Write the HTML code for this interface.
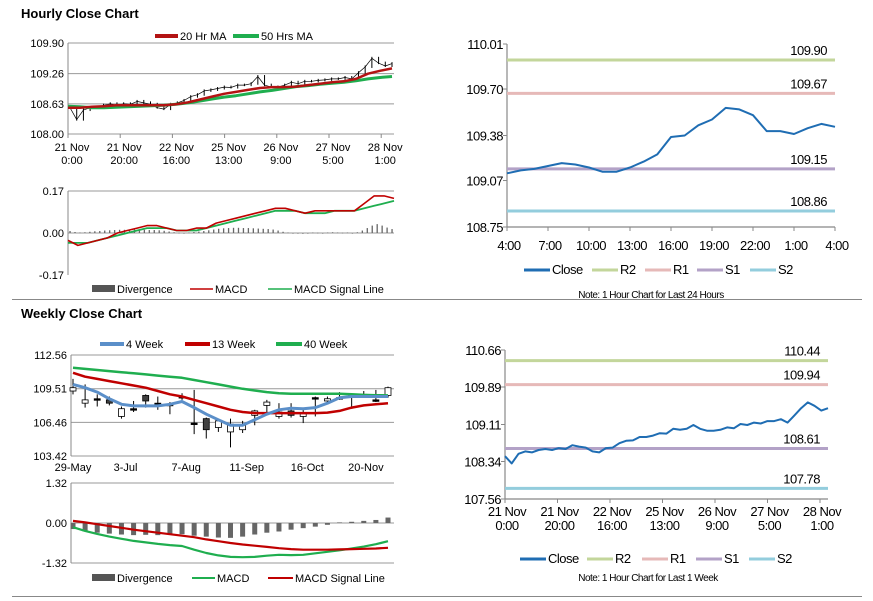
<!DOCTYPE html>
<html><head><meta charset="utf-8">
<style>
body{margin:0;background:#fff;}
svg{display:block;font-family:"Liberation Sans",Arial,sans-serif;}
.t{font-size:11px;fill:#000;}
.tc{font-size:11px;fill:#000;letter-spacing:-0.5px;}
</style></head><body>
<svg id="s" width="873" height="601" viewBox="0 0 873 601" xmlns="http://www.w3.org/2000/svg">
<text x="21" y="18" font-size="13" font-weight="bold">Hourly Close Chart</text>
<text x="21" y="318" font-size="13" font-weight="bold">Weekly Close Chart</text>
<line x1="12" y1="299.5" x2="862" y2="299.5" stroke="#888"/>
<line x1="12" y1="596.5" x2="862" y2="596.5" stroke="#888"/>
</svg>
<script>
// ---------- DATA ----------
const hourlyCloses=[108.55,108.30,108.50,108.55,108.56,108.60,108.63,108.60,108.63,108.62,108.68,108.65,108.62,108.55,108.52,108.62,108.65,108.70,108.78,108.82,108.90,108.92,108.95,108.98,108.97,109.02,109.02,109.05,109.20,109.02,108.98,108.98,109.02,109.08,109.05,109.10,109.10,109.12,109.13,109.15,109.15,109.18,109.15,109.28,109.40,109.58,109.48,109.42,109.47];
const ma20=[108.55,108.55,108.57,108.58,108.60,108.60,108.60,108.60,108.60,108.62,108.66,108.72,108.78,108.84,108.88,108.92,108.96,108.98,108.98,108.99,109.02,109.05,109.08,109.10,109.15,109.26,109.32,109.37];
const ma50=[108.58,108.57,108.55,108.55,108.56,108.57,108.58,108.59,108.60,108.62,108.65,108.69,108.73,108.77,108.80,108.84,108.88,108.91,108.95,108.99,109.01,109.04,109.06,109.08,109.11,109.15,109.18,109.20];
const hourlyXTicks=[["21 Nov","0:00"],["21 Nov","20:00"],["22 Nov","16:00"],["25 Nov","13:00"],["26 Nov","9:00"],["27 Nov","5:00"],["28 Nov","1:00"]];
const hourlyYTicks=[109.90,109.26,108.63,108.00];
const hMacd=[-0.03,-0.05,-0.04,-0.03,-0.02,0.00,0.01,0.02,0.03,0.03,0.02,0.01,0.01,0.02,0.02,0.04,0.05,0.06,0.07,0.08,0.09,0.10,0.10,0.09,0.08,0.09,0.09,0.09,0.09,0.09,0.12,0.15,0.15,0.14];
const hSignal=[-0.04,-0.04,-0.04,-0.03,-0.02,-0.01,0.00,0.01,0.02,0.02,0.02,0.01,0.01,0.01,0.02,0.03,0.04,0.05,0.06,0.07,0.08,0.09,0.09,0.09,0.08,0.08,0.08,0.09,0.09,0.09,0.10,0.11,0.12,0.13];
const hDiv=[0.008,0.004,0.002,0.003,0.005,0.007,0.008,0.010,0.011,0.012,0.013,0.013,0.014,0.014,0.014,0.013,0.012,0.012,0.011,0.009,0.006,0.003,0.001,0.000,0.002,0.004,0.006,0.008,0.011,0.014,0.017,0.019,0.020,0.021,0.021,0.020,0.020,0.019,0.018,0.017,0.016,0.014,0.010,0.005,0.002,0.000,-0.002,-0.003,0.000,0.002,0.001,0.000,0.002,0.003,0.002,0.001,0.002,0.000,0.003,0.010,0.020,0.030,0.036,0.030,0.022,0.016];
const hMacdTicks=[0.17,0.00,-0.17];

const d24Close=[109.12,109.14,109.15,109.17,109.19,109.18,109.16,109.13,109.13,109.16,109.20,109.25,109.37,109.38,109.45,109.49,109.57,109.56,109.52,109.41,109.41,109.39,109.43,109.46,109.44];
const d24XTicks=["4:00","7:00","10:00","13:00","16:00","19:00","22:00","1:00","4:00"];
const d24YTicks=[110.01,109.70,109.38,109.07,108.75];
const d24Levels=[109.90,109.67,109.15,108.86]; // R2,R1,S1,S2

const wkClose=[108.45,108.30,108.50,108.55,108.53,108.58,108.60,108.58,108.62,108.60,108.68,108.65,108.63,108.55,108.53,108.62,108.63,108.72,108.77,108.78,108.85,108.85,108.88,108.93,108.92,109.02,109.00,109.02,109.10,109.02,108.98,108.98,109.00,109.05,109.03,109.12,109.10,109.15,109.13,109.18,109.18,109.22,109.15,109.30,109.45,109.57,109.50,109.40,109.45];
const wkXTicks=[["21 Nov","0:00"],["21 Nov","20:00"],["22 Nov","16:00"],["25 Nov","13:00"],["26 Nov","9:00"],["27 Nov","5:00"],["28 Nov","1:00"]];
const wkYTicks=[110.66,109.89,109.11,108.34,107.56];
const wkLevels=[110.44,109.94,108.61,107.78];

const wOpen =[109.3,108.2,108.6,108.5,107.0,107.7,108.9,108.2,108.1,108.8,106.4,106.8,106.0,105.6,105.8,107.1,108.0,107.0,107.5,107.0,108.7,108.4,108.7,108.9,109.0,108.5,108.9];
const wClose=[109.6,108.5,108.6,108.2,107.7,107.7,108.4,108.2,108.1,108.8,106.4,105.8,106.6,106.3,106.2,107.5,108.3,107.4,107.1,107.3,108.7,108.6,108.7,108.9,109.0,108.5,109.6];
const wHigh =[110.4,109.9,109.0,108.8,107.9,108.4,109.0,108.8,108.3,109.1,109.4,106.9,106.7,106.8,106.6,107.6,108.5,108.2,108.2,107.6,108.8,108.8,109.2,109.0,109.3,109.4,109.7];
const wLow  =[109.0,107.8,107.9,108.0,106.8,107.4,107.8,107.6,107.2,108.5,105.4,105.0,105.6,104.2,105.5,106.2,107.2,106.8,106.9,106.4,107.0,108.2,108.5,107.7,108.8,108.3,108.7];
const w4=[109.9,109.6,109.2,108.6,108.1,107.95,107.95,107.95,108.1,108.35,107.8,107.2,106.7,106.2,106.2,106.7,107.2,107.6,107.75,107.7,107.8,108.2,108.7,108.8,108.8,108.8,108.8];
const w13=[110.95,110.6,110.4,110.2,110.0,109.8,109.6,109.3,109.0,108.8,108.5,108.2,107.9,107.6,107.4,107.3,107.3,107.3,107.3,107.3,107.3,107.35,107.5,107.8,108.0,108.1,108.2];
const w40=[111.4,111.3,111.2,111.1,111.0,110.9,110.8,110.7,110.6,110.5,110.3,110.1,109.9,109.7,109.5,109.35,109.2,109.1,109.05,109.05,109.05,109.05,109.05,109.0,108.95,108.92,108.9];
const wXTicks=["29-May","3-Jul","7-Aug","11-Sep","16-Oct","20-Nov"];
const wXTickIdx=[0,5,10,15,20,25];
const wYTicks=[112.56,109.51,106.46,103.42];
const wMacd=[-0.14,-0.26,-0.36,-0.45,-0.52,-0.59,-0.64,-0.69,-0.73,-0.76,-0.88,-0.99,-1.07,-1.12,-1.13,-1.12,-1.08,-1.05,-1.06,-1.05,-1.00,-0.95,-0.90,-0.84,-0.78,-0.70,-0.60];
const wSignal=[0.07,0.02,-0.04,-0.10,-0.16,-0.22,-0.27,-0.32,-0.37,-0.42,-0.47,-0.54,-0.60,-0.66,-0.71,-0.75,-0.79,-0.83,-0.86,-0.88,-0.88,-0.88,-0.87,-0.86,-0.85,-0.84,-0.82];
const wDiv=[-0.20,-0.28,-0.32,-0.35,-0.38,-0.40,-0.39,-0.40,-0.37,-0.37,-0.42,-0.45,-0.48,-0.49,-0.45,-0.38,-0.32,-0.28,-0.22,-0.17,-0.12,-0.06,0.02,0.04,0.07,0.10,0.18];
const wMacdTicks=[1.32,0.00,-1.32];

// ---------- HELPERS ----------
const S=document.getElementById('s');const NS='http://www.w3.org/2000/svg';
function mk(tag,at,parent){const e=document.createElementNS(NS,tag);for(const k in at)e.setAttribute(k,at[k]);(parent||S).appendChild(e);return e;}
function lin(d0,d1,r0,r1){return v=>r0+(v-d0)/(d1-d0)*(r1-r0);}
function idxX(n,x0,x1){return i=>x0+i*(x1-x0)/(n-1);}
function poly(arr,fx,fy,color,w,name){const p=arr.map((v,i)=>fx(i).toFixed(1)+','+fy(v).toFixed(1)).join(' ');
 const e=mk('polyline',{points:p,fill:'none',stroke:color,'stroke-width':w,'stroke-linejoin':'round'});
 
 return e;}
function txt(x,y,s,anchor,cls,name,size){const e=mk('text',{x:x,y:y,'text-anchor':anchor||'start',class:cls||'t'});if(size)e.style.fontSize=size+'px';e.textContent=s;
 
 return e;}
function hline(x1,x2,y,color,w,name){const e=mk('line',{x1:x1,x2:x2,y1:y,y2:y,stroke:color,'stroke-width':w});
 
 return e;}
function vline(x,y1,y2,color,w,name){const e=mk('line',{x1:x,x2:x,y1:y1,y2:y2,stroke:color,'stroke-width':w});
 
 return e;}
function legLine(x1,x2,y,color,w,label,name,cls,size){hline(x1,x2,y,color,w,name+'-swatch');txt(x2+2,y+4,label,'start',cls||'t',name,size);}
const GRID='#999';

// ---------- HOURLY CANDLE PANEL ----------
(function(){
 const X0=68,X1=394,yS=lin(108.00,109.90,134,43);
 hourlyYTicks.forEach(v=>{hline(X0,X1,yS(v),GRID,1,'hourly-gridline');txt(X0-4,yS(v)+4,v.toFixed(2),'end','t','hourly-y-tick');});
 vline(X0,43,134,'#888',1,'hourly-y-axis');
 hourlyXTicks.forEach((t,i)=>{const x=X0+i*52.2;vline(x,134,138,'#888',1,'hourly-x-tickmark');txt(x+4,151,t[0],'middle','t','hourly-x-tick');txt(x+4,164,t[1],'middle','t','hourly-x-tick');});
 const fx=idxX(hourlyCloses.length,X0+2,X1-2);
 const g=mk('g',{});
 hourlyCloses.forEach((v,i)=>{if(i==0)return;const a=yS(hourlyCloses[i-1]),b=yS(v);
  const e=mk('line',{x1:fx(i),x2:fx(i),y1:Math.min(a,b)-1.5,y2:Math.max(a,b)+1,stroke:'#000','stroke-width':1});
  g.appendChild(e);
  
  });
 poly(hourlyCloses,fx,yS,'#000',0.7,'hourly-close-path');
 poly(ma50,idxX(ma50.length,X0,X1-2),yS,'#1fae4f',3,'ma-50-line');
 poly(ma20,idxX(ma20.length,X0,X1-2),yS,'#b31313',2.5,'ma-20-line');
 legLine(155,178,36,'#b31313',4,'20 Hr MA','legend-20hr-ma');
 legLine(233,259,36,'#1fae4f',4,'50 Hrs MA','legend-50hrs-ma');
})();

// ---------- HOURLY MACD ----------
(function(){
 const X0=68,X1=394,yS=lin(-0.17,0.17,275,191);
 hMacdTicks.forEach(v=>{if(v>-0.17)hline(X0,X1,yS(v),GRID,1,'hourly-macd-gridline');txt(X0-4,yS(v)+4,v.toFixed(2),'end','t','hourly-macd-y-tick');});
 vline(X0,191,275,'#888',1,'hourly-macd-y-axis');
 const fd=idxX(hDiv.length,X0+2,X1-2);
 hDiv.forEach((v,i)=>{const y0=yS(0),y1=yS(v);const e=mk('rect',{x:fd(i)-0.6,y:Math.min(y0,y1),width:1.3,height:Math.max(0.6,Math.abs(y1-y0)),fill:'#666'});
  
  });
 poly(hSignal,idxX(hSignal.length,X0,X1),yS,'#1fae4f',1.8,'hourly-macd-signal-line');
 poly(hMacd,idxX(hMacd.length,X0,X1),yS,'#c00000',1.6,'hourly-macd-line');
 const r=mk('rect',{x:92,y:285,width:23,height:7,fill:'#555'});
 txt(117,293,'Divergence','start','t','legend-divergence');
 legLine(190,213,289,'#c00000',1.5,'MACD','legend-macd');
 legLine(268,292,289,'#1fae4f',1.5,'MACD Signal Line','legend-macd-signal');
})();

// ---------- LEVELS CHART ----------
function levelsChart(o){
 const yS=lin(o.y0v,o.y1v,o.y0,o.y1);
 vline(o.X0,o.y1,o.y0,'#888',1.2,o.p+'-y-axis');
 hline(o.X0,o.X1,o.y0,'#888',1.2,o.p+'-x-axis');
 o.yt.forEach(v=>{hline(o.X0-4,o.X0,yS(v),'#888',1,o.p+'-y-tickmark');txt(o.X0-4,yS(v)+5,v.toFixed(2),'end','tc',o.p+'-y-tick',13);});
 o.xt.forEach((t,i)=>{const x=o.X0+i*o.xs;vline(x,o.y0,o.y0+4,'#888',1,o.p+'-x-tickmark');
  if(Array.isArray(t)){txt(x+2,o.y0+17,t[0],'middle','tc',o.p+'-x-tick',13);txt(x+2,o.y0+31,t[1],'middle','tc',o.p+'-x-tick',13);}
  else txt(x+2,o.y0+23,t,'middle','tc',o.p+'-x-tick',13);});
 const cols=['#c3d69b','#e6b9b8','#b3a2c7','#93cddd'],nm=['r2','r1','s1','s2'];
 o.lv.forEach((v,i)=>{hline(o.X0,o.X1,yS(v),cols[i],3,o.p+'-'+nm[i]+'-line');txt(o.X1-8,yS(v)-5,v.toFixed(2),'end','tc',o.p+'-'+nm[i]+'-label',13);});
 poly(o.close,idxX(o.close.length,o.X0,o.cX1),yS,'#1f6db3',2,o.p+'-close-line');
 const L=o.leg,ly=o.ly;
 legLine(L[0],L[0]+26,ly,'#1f6db3',3,'Close',o.p+'-legend-close','tc',13);
 ['R2','R1','S1','S2'].forEach((s,i)=>legLine(L[i+1],L[i+1]+26,ly,cols[i],3,s,o.p+'-legend-'+nm[i],'tc',13));
 txt(o.nx,o.ny,o.note,'middle','tc',o.p+'-note',10);
}
levelsChart({p:'day',X0:507,X1:835,cX1:835,y0:227,y1:44,y0v:108.75,y1v:110.01,yt:d24YTicks,xt:d24XTicks,xs:41,lv:d24Levels,close:d24Close,leg:[524,592,645,697,750],ly:270,nx:651,ny:298,note:'Note: 1 Hour Chart for Last 24 Hours'});
levelsChart({p:'week',X0:505,X1:828,cX1:828,y0:499,y1:350,y0v:107.56,y1v:110.66,yt:wkYTicks,xt:wkXTicks,xs:52.5,lv:wkLevels,close:wkClose,leg:[520,587,642,696,749],ly:559,nx:648,ny:581,note:'Note: 1 Hour Chart for Last 1 Week'});

// ---------- WEEKLY CANDLES ----------
(function(){
 const X0=71,X1=394,yS=lin(103.42,112.56,456,355),fx=idxX(wOpen.length,73,388);
 wYTicks.forEach(v=>{hline(X0,X1,yS(v),GRID,1,'weekly-gridline');txt(X0-4,yS(v)+4,v.toFixed(2),'end','t','weekly-y-tick');});
 vline(X0,355,456,'#888',1,'weekly-y-axis');
 wXTicks.forEach((t,i)=>{const x=fx(wXTickIdx[i]);txt(x-8+(i==0?8:0)-(i==5?2:0),471,t,'middle','t','weekly-x-tick');});
 wOpen.forEach((o,i)=>{const x=fx(i);vline(x,yS(wHigh[i]),yS(wLow[i]),'#000',1,'weekly-candle-wick');
  const top=yS(Math.max(o,wClose[i])),bot=yS(Math.min(o,wClose[i]));const dark=wClose[i]<o;
  const e=mk('rect',{x:x-3,y:top,width:6,height:Math.max(1.5,bot-top),fill:dark?'#404040':(bot-top<1?'#000':'#fff'),stroke:'#000','stroke-width':0.8});
  
  });
 poly(w40,fx,yS,'#1fae4f',2.5,'ma-40-week-line');
 poly(w13,fx,yS,'#c00000',2.5,'ma-13-week-line');
 poly(w4,fx,yS,'#5b8fc9',3,'ma-4-week-line');
 legLine(100,124,344,'#5b8fc9',4,'4 Week','legend-4-week');
 legLine(185,210,344,'#c00000',4,'13 Week','legend-13-week');
 legLine(276,302,344,'#1fae4f',4,'40 Week','legend-40-week');
})();

// ---------- WEEKLY MACD ----------
(function(){
 const X0=71,X1=394,yS=lin(-1.32,1.32,563,483),fx=idxX(wDiv.length,73,388);
 wMacdTicks.forEach(v=>{hline(X0,X1,yS(v),GRID,1,'weekly-macd-gridline');txt(X0-4,yS(v)+4,v.toFixed(2),'end','t','weekly-macd-y-tick');});
 vline(X0,483,563,'#888',1,'weekly-macd-y-axis');
 wDiv.forEach((v,i)=>{const y0=yS(0),y1=yS(v);const e=mk('rect',{x:fx(i)-2.5,y:Math.min(y0,y1),width:5,height:Math.abs(y1-y0),fill:'#666'});
  
  });
 poly(wMacd,fx,yS,'#1fae4f',2.2,'weekly-macd-line');
 poly(wSignal,fx,yS,'#c00000',2.2,'weekly-macd-signal-line');
 const r=mk('rect',{x:92,y:574,width:23,height:7,fill:'#555'});
 txt(117,582,'Divergence','start','t','weekly-legend-divergence');
 legLine(192,215,578,'#1fae4f',2,'MACD','weekly-legend-macd');
 legLine(268,293,578,'#c00000',2,'MACD Signal Line','weekly-legend-macd-signal');
})();
</script>
</body></html>
